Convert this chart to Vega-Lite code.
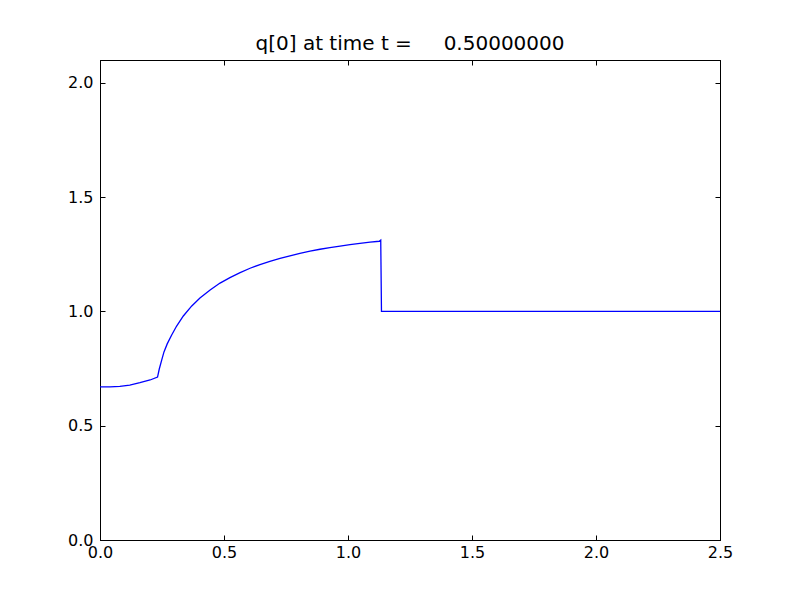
{
  "$schema": "https://vega.github.io/schema/vega-lite/v6.json",
  "width": 620,
  "height": 480,
  "autosize": "none",
  "padding": {"left": 100, "top": 60, "right": 80, "bottom": 60},
  "background": "white",
  "title": {"text": "q[0] at time t =\u00a0\u00a0\u00a0\u00a0\u00a00.50000000", "font": "DejaVu Sans", "fontSize": 20, "fontWeight": "normal", "color": "black", "offset": 6, "anchor": "middle"},
  "config": {
    "view": {"stroke": "black", "strokeWidth": 1},
    "axis": {"grid": false, "domain": true, "domainColor": "black", "tickColor": "black", "tickSize": -5, "labelFont": "DejaVu Sans", "labelFontSize": 16, "labelColor": "black", "labelFlush": false, "labelOverlap": false, "title": null}
  },
  "data": {"values": [
    {"x": 0.0, "q": 0.670},
    {"x": 0.04, "q": 0.670},
    {"x": 0.08, "q": 0.672},
    {"x": 0.12, "q": 0.678},
    {"x": 0.161, "q": 0.688},
    {"x": 0.202, "q": 0.700},
    {"x": 0.232, "q": 0.713},
    {"x": 0.239, "q": 0.748},
    {"x": 0.249, "q": 0.788},
    {"x": 0.258, "q": 0.823},
    {"x": 0.271, "q": 0.858},
    {"x": 0.289, "q": 0.897},
    {"x": 0.309, "q": 0.936},
    {"x": 0.336, "q": 0.980},
    {"x": 0.370, "q": 1.024},
    {"x": 0.403, "q": 1.059},
    {"x": 0.444, "q": 1.094},
    {"x": 0.484, "q": 1.124},
    {"x": 0.524, "q": 1.148},
    {"x": 0.565, "q": 1.170},
    {"x": 0.605, "q": 1.189},
    {"x": 0.645, "q": 1.205},
    {"x": 0.685, "q": 1.219},
    {"x": 0.726, "q": 1.232},
    {"x": 0.766, "q": 1.243},
    {"x": 0.806, "q": 1.254},
    {"x": 0.847, "q": 1.264},
    {"x": 0.887, "q": 1.272},
    {"x": 0.927, "q": 1.279},
    {"x": 0.968, "q": 1.286},
    {"x": 1.008, "q": 1.292},
    {"x": 1.048, "q": 1.298},
    {"x": 1.089, "q": 1.303},
    {"x": 1.126, "q": 1.307},
    {"x": 1.132, "q": 1.312},
    {"x": 1.135, "q": 1.000},
    {"x": 1.137, "q": 1.000},
    {"x": 2.5, "q": 1.000}
  ]},
  "layer": [
    {
      "mark": {"type": "line", "color": "#0000ff", "strokeWidth": 1.3, "clip": true},
      "encoding": {
        "x": {"field": "x", "type": "quantitative", "scale": {"domain": [0, 2.5], "nice": false}, "axis": {"orient": "bottom", "values": [0, 0.5, 1, 1.5, 2, 2.5], "format": ".1f", "labelPadding": 9}},
        "y": {"field": "q", "type": "quantitative", "scale": {"domain": [0, 2.1], "nice": false, "zero": false}, "axis": {"orient": "left", "values": [0, 0.5, 1, 1.5, 2], "format": ".1f", "labelPadding": 12}}
      }
    },
    {
      "mark": {"type": "line", "opacity": 0},
      "encoding": {
        "x": {"field": "x", "type": "quantitative", "scale": {"domain": [0, 2.5], "nice": false}, "axis": {"orient": "top", "values": [0, 0.5, 1, 1.5, 2, 2.5], "labels": false}},
        "y": {"field": "q", "type": "quantitative", "scale": {"domain": [0, 2.1], "nice": false, "zero": false}, "axis": {"orient": "right", "values": [0, 0.5, 1, 1.5, 2], "labels": false}}
      }
    }
  ],
  "resolve": {"axis": {"x": "independent", "y": "independent"}}
}
